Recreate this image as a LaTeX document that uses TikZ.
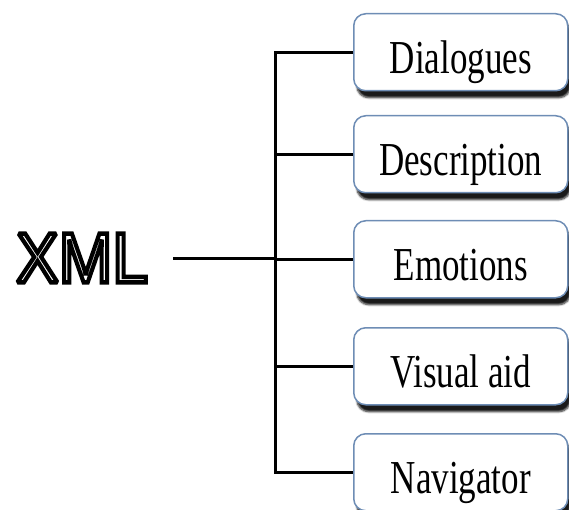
\documentclass[tikz,border=0pt]{standalone}
\usepackage{fontspec}
\setmainfont{Liberation Serif}
\newfontfamily\xmlfont{Liberation Sans}
\usetikzlibrary{shadows.blur}
\definecolor{boxblue}{HTML}{6E8DB5}
\newcommand{\strokedtext}[1]{\special{pdf:literal direct 1 Tr 4 w 2 M 0 G}#1\special{pdf:literal direct 0 Tr}}
\begin{document}
\begin{tikzpicture}[x=1pt,y=-1pt,
  item/.style={draw=boxblue, line width=1.5pt, fill=white, rounded corners=12pt,
    minimum width=214pt, minimum height=77pt, anchor=north west, inner sep=0pt,
    text height=42pt, text depth=0pt,
    blur shadow={shadow xshift=3pt, shadow yshift=-7pt, shadow blur steps=6, shadow opacity=90},
    font=\fontsize{35}{35}\selectfont},
  conn/.style={line width=3pt, draw=black}]
\useasboundingbox (0,0) rectangle (569,510);
\node (b1) [item] at (353,13) {\scalebox{1}[1.35]{Dialogues}};
\node (b2) [item] at (353,115) {\scalebox{1}[1.35]{Description}};
\node (b3) [item] at (353,220) {\scalebox{1}[1.35]{Emotions}};
\node (b4) [item] at (353,327) {\scalebox{1}[1.35]{Visual aid}};
\node (b5) [item] at (353,433) {\scalebox{1}[1.35]{Navigator}};
\node (xml) at (82,258) {\xmlfont\fontsize{63}{63}\selectfont\scalebox{1.02}[1.12]{\strokedtext{XML}}};
\coordinate (hub) at (275,258);
\coordinate (s) at (173,258);
\draw[conn] (b1.west) -| (hub) |- (b5.west);
\draw[conn] (b2.west) -- (b2.west -| hub);
\draw[conn] (b3.west) -- (b3.west -| hub);
\draw[conn] (b4.west) -- (b4.west -| hub);
\draw[conn] (s) -- (hub);
\end{tikzpicture}
\end{document}
